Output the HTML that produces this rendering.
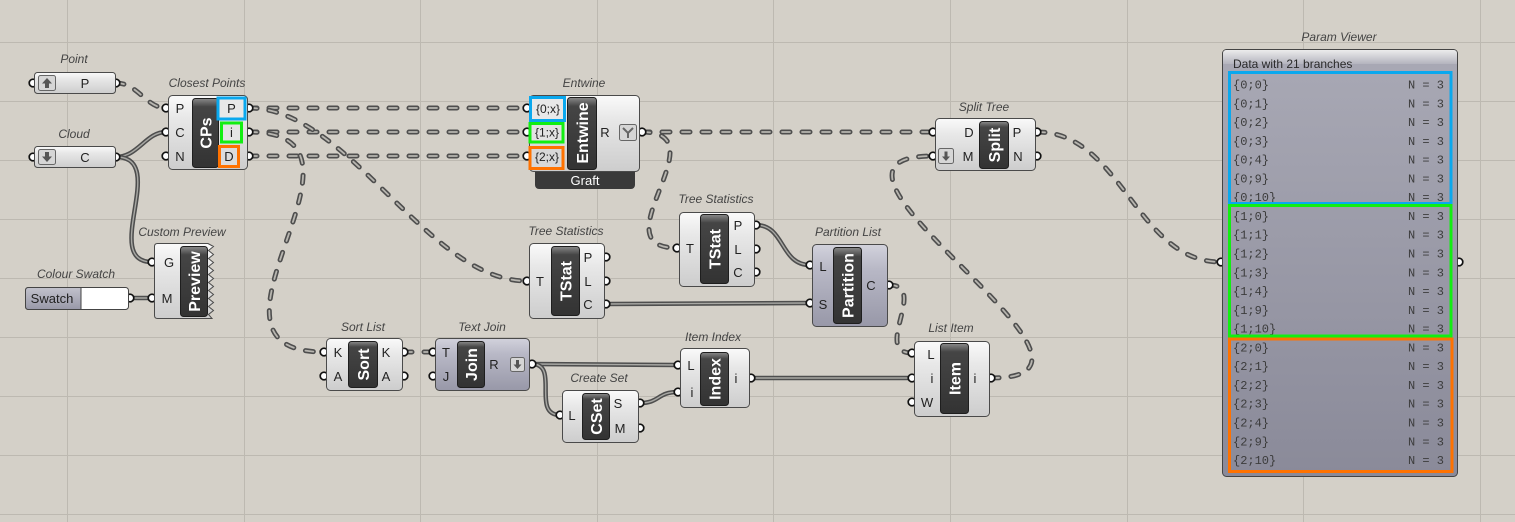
<!DOCTYPE html>
<html><head><meta charset="utf-8"><style>
html,body{margin:0;padding:0;background:#d4d0c8;}
svg{display:block;}
.lbl{font:italic 12px "Liberation Sans",sans-serif;fill:#444;text-anchor:middle;}
.pl{font:13px "Liberation Sans",sans-serif;fill:#222;text-anchor:middle;}
.bt{font:bold 16px "Liberation Sans",sans-serif;fill:#fff;text-anchor:middle;}
.body{fill:url(#gBody);stroke:#4a4a4a;stroke-width:1;}
.pbody{fill:url(#gPurple);stroke:#4a4a4a;stroke-width:1;}
.bar{fill:url(#gBar);stroke:#1e1e1e;stroke-width:1;}
.port{fill:#fff;stroke:#111;stroke-width:1.7;}
.dO{fill:none;stroke:#4e4e4e;stroke-width:5;stroke-linecap:round;stroke-dasharray:8 12;}
.dI{fill:none;stroke:#b8b6b0;stroke-width:1.8;stroke-linecap:round;stroke-dasharray:8 12;}
.sO{fill:none;stroke:#4e4e4e;stroke-width:4.5;}
.sI{fill:none;stroke:#a8a8a4;stroke-width:1.4;}
.grid{stroke:#bdb9b1;stroke-width:1;}
.mono{font:12px "Liberation Mono",monospace;fill:#3c3c3c;}
.ico{fill:#d6d6d6;stroke:#666;stroke-width:1;}
</style></head><body>
<svg width="1515" height="522" viewBox="0 0 1515 522" xmlns="http://www.w3.org/2000/svg">
<defs>
<linearGradient id="gBody" x1="0" y1="0" x2="0" y2="1"><stop offset="0" stop-color="#fafafa"/><stop offset="0.3" stop-color="#e8e8e8"/><stop offset="1" stop-color="#cdcdcd"/></linearGradient>
<linearGradient id="gPurple" x1="0" y1="0" x2="0" y2="1"><stop offset="0" stop-color="#d2d2dc"/><stop offset="0.3" stop-color="#b8b8c6"/><stop offset="1" stop-color="#9898a8"/></linearGradient>
<linearGradient id="gBar" x1="0" y1="0" x2="0" y2="1"><stop offset="0" stop-color="#8a8a8a"/><stop offset="0.12" stop-color="#454545"/><stop offset="1" stop-color="#333"/></linearGradient>
<linearGradient id="gPV" x1="0" y1="0" x2="0" y2="1"><stop offset="0" stop-color="#a9a9b5"/><stop offset="1" stop-color="#8a8a99"/></linearGradient>
<linearGradient id="gHead" x1="0" y1="0" x2="0" y2="1"><stop offset="0" stop-color="#ececec"/><stop offset="1" stop-color="#b4b4be"/></linearGradient>
<linearGradient id="gSw" x1="0" y1="0" x2="0" y2="1"><stop offset="0" stop-color="#c2c2cc"/><stop offset="1" stop-color="#9898a8"/></linearGradient>
</defs>

<!-- grid -->
<g class="grid">
<line x1="67.5" y1="0" x2="67.5" y2="522"/><line x1="244.5" y1="0" x2="244.5" y2="522"/>
<line x1="420.5" y1="0" x2="420.5" y2="522"/><line x1="597.5" y1="0" x2="597.5" y2="522"/>
<line x1="773.5" y1="0" x2="773.5" y2="522"/><line x1="950.5" y1="0" x2="950.5" y2="522"/>
<line x1="1127.5" y1="0" x2="1127.5" y2="522"/><line x1="1303.5" y1="0" x2="1303.5" y2="522"/>
<line x1="1480.5" y1="0" x2="1480.5" y2="522"/>
<line x1="0" y1="42.5" x2="1515" y2="42.5"/><line x1="0" y1="101.5" x2="1515" y2="101.5"/>
<line x1="0" y1="160.5" x2="1515" y2="160.5"/><line x1="0" y1="219.5" x2="1515" y2="219.5"/>
<line x1="0" y1="278.5" x2="1515" y2="278.5"/><line x1="0" y1="337.5" x2="1515" y2="337.5"/>
<line x1="0" y1="396.5" x2="1515" y2="396.5"/><line x1="0" y1="455.5" x2="1515" y2="455.5"/>
<line x1="0" y1="514.5" x2="1515" y2="514.5"/>
</g>

<!-- solid wires -->
<g>
<path class="sO" d="M116,157 C138,157 146,132 166,132"/><path class="sI" d="M116,157 C138,157 146,132 166,132"/>
<path class="sO" d="M116,157 C170,157 100,262 152,262"/><path class="sI" d="M116,157 C170,157 100,262 152,262"/>
<path class="sO" d="M130,298 L152,298"/><path class="sI" d="M130,298 L152,298"/>
<path class="sO" d="M756,225 C785,225 780,265 810,265"/><path class="sI" d="M756,225 C785,225 780,265 810,265"/>
<path class="sO" d="M606,304 L810,303"/><path class="sI" d="M606,304 L810,303"/>
<path class="sO" d="M532,364 L678,365"/><path class="sI" d="M532,364 L678,365"/>
<path class="sO" d="M532,364 C560,364 531,415 560,415"/><path class="sI" d="M532,364 C560,364 531,415 560,415"/>
<path class="sO" d="M640,403 C660,403 657,392 678,392"/><path class="sI" d="M640,403 C660,403 657,392 678,392"/>
<path class="sO" d="M751,378 L912,378"/><path class="sI" d="M751,378 L912,378"/>
</g>
<!-- dashed wires -->
<g>
<path class="dO" d="M116,83 C138,83 146,108 166,108"/><path class="dI" d="M116,83 C138,83 146,108 166,108"/>
<path class="dO" d="M249,108 L527,108"/><path class="dI" d="M249,108 L527,108"/>
<path class="dO" d="M249,132 L527,132"/><path class="dI" d="M249,132 L527,132"/>
<path class="dO" d="M249,156 L527,156"/><path class="dI" d="M249,156 L527,156"/>
<path class="dO" d="M249,108 C349,108 427,281 527,281"/><path class="dI" d="M249,108 C349,108 427,281 527,281"/>
<path class="dO" d="M249,132 C399,132 173,352 324,352"/><path class="dI" d="M249,132 C399,132 173,352 324,352"/>
<path class="dO" d="M642,132 L933,132"/><path class="dI" d="M642,132 L933,132"/>
<path class="dO" d="M642,132 C722,132 597,248 677,248"/><path class="dI" d="M642,132 C722,132 597,248 677,248"/>
<path class="dO" d="M1037,132 C1122,132 1136,262 1221,262"/><path class="dI" d="M1037,132 C1122,132 1136,262 1221,262"/>
<path class="dO" d="M889,285 C929,285 872,353 912,353"/><path class="dI" d="M889,285 C929,285 872,353 912,353"/>
<path class="dO" d="M404,352 L433,352"/><path class="dI" d="M404,352 L433,352"/>
<path class="dO" d="M991,378 C1153,378 771,156 933,156"/><path class="dI" d="M991,378 C1153,378 771,156 933,156"/>
</g>

<!-- ports -->
<g class="port">
<circle cx="33" cy="83" r="3.8"/><circle cx="116" cy="83" r="3.8"/>
<circle cx="33" cy="157" r="3.8"/><circle cx="116" cy="157" r="3.8"/>
<circle cx="166" cy="108" r="3.8"/><circle cx="166" cy="132" r="3.8"/><circle cx="166" cy="156" r="3.8"/>
<circle cx="249" cy="108" r="3.8"/><circle cx="249" cy="132" r="3.8"/><circle cx="249" cy="156" r="3.8"/>
<circle cx="527" cy="108" r="3.8"/><circle cx="527" cy="132" r="3.8"/><circle cx="527" cy="156" r="3.8"/>
<circle cx="642" cy="132" r="3.8"/>
<circle cx="152" cy="262" r="3.8"/><circle cx="152" cy="298" r="3.8"/>
<circle cx="130" cy="298" r="3.8"/>
<circle cx="527" cy="281" r="3.8"/><circle cx="606" cy="257" r="3.8"/><circle cx="606" cy="281" r="3.8"/><circle cx="606" cy="304" r="3.8"/>
<circle cx="677" cy="248" r="3.8"/><circle cx="756" cy="225" r="3.8"/><circle cx="756" cy="249" r="3.8"/><circle cx="756" cy="272" r="3.8"/>
<circle cx="810" cy="265" r="3.8"/><circle cx="810" cy="303" r="3.8"/><circle cx="889" cy="285" r="3.8"/>
<circle cx="324" cy="352" r="3.8"/><circle cx="324" cy="376" r="3.8"/><circle cx="404" cy="352" r="3.8"/><circle cx="404" cy="376" r="3.8"/>
<circle cx="433" cy="352" r="3.8"/><circle cx="433" cy="376" r="3.8"/><circle cx="532" cy="364" r="3.8"/>
<circle cx="560" cy="415" r="3.8"/><circle cx="640" cy="403" r="3.8"/><circle cx="640" cy="428" r="3.8"/>
<circle cx="678" cy="365" r="3.8"/><circle cx="678" cy="392" r="3.8"/><circle cx="751" cy="378" r="3.8"/>
<circle cx="912" cy="353" r="3.8"/><circle cx="912" cy="378" r="3.8"/><circle cx="912" cy="402" r="3.8"/><circle cx="991" cy="378" r="3.8"/>
<circle cx="933" cy="132" r="3.8"/><circle cx="933" cy="156" r="3.8"/><circle cx="1037" cy="132" r="3.8"/><circle cx="1037" cy="156" r="3.8"/>
<circle cx="1221" cy="262" r="3.8"/><circle cx="1459" cy="262" r="3.8"/>
</g>

<!-- Point -->
<rect class="body" x="34.5" y="72.5" width="81" height="21" rx="3"/>
<rect class="ico" x="38.5" y="75.5" width="17" height="15" rx="2"/>
<path d="M47,78 L42,83.5 H45 V88 H49 V83.5 H52 Z" fill="#555"/>
<text class="pl" x="85" y="88">P</text>
<text class="lbl" x="74" y="63">Point</text>

<!-- Cloud -->
<rect class="body" x="34.5" y="146.5" width="81" height="21" rx="3"/>
<rect class="ico" x="38.5" y="149.5" width="17" height="15" rx="2"/>
<path d="M47,162 L42,156.5 H45 V152 H49 V156.5 H52 Z" fill="#555"/>
<text class="pl" x="85" y="162">C</text>
<text class="lbl" x="74" y="138">Cloud</text>

<!-- Closest Points -->
<rect class="body" x="168.5" y="95.5" width="79" height="74" rx="4"/>
<rect class="bar" x="192.5" y="98.5" width="26" height="69" rx="3"/>
<text class="bt" transform="translate(205.5,133) rotate(-90)" dy="6">CPs</text>
<text class="pl" x="180" y="113">P</text><text class="pl" x="180" y="137">C</text><text class="pl" x="180" y="161">N</text>
<rect x="218" y="98" width="27" height="21" fill="#e8e8e8" stroke="#0aa8ee" stroke-width="3"/>
<rect x="221.5" y="123" width="20" height="19" fill="#e4e4e4" stroke="#12ee12" stroke-width="3"/>
<rect x="219.5" y="146.5" width="19" height="20" fill="#dcdcdc" stroke="#ff7200" stroke-width="3"/>
<text class="pl" x="231.5" y="113">P</text><text class="pl" x="231.5" y="137">i</text><text class="pl" x="229" y="161">D</text>
<text class="lbl" x="207" y="87">Closest Points</text>

<!-- Entwine -->
<rect x="535" y="160" width="100" height="29" rx="4" fill="#3a3a3a"/>
<text x="585" y="185" font-family="Liberation Sans, sans-serif" font-size="13" fill="#fff" text-anchor="middle">Graft</text>
<rect class="body" x="529.5" y="95.5" width="110" height="76" rx="4"/>
<rect x="530.5" y="97.5" width="34" height="23" fill="#e8e8e8" stroke="#0aa8ee" stroke-width="3"/>
<rect x="530" y="123.5" width="33" height="18.5" fill="#e2e2e2" stroke="#12ee12" stroke-width="3"/>
<rect x="530" y="147.5" width="33" height="21" fill="#d8d8d8" stroke="#ff7200" stroke-width="3"/>
<text x="548" y="113" font-family="Liberation Sans, sans-serif" font-size="12" fill="#222" text-anchor="middle">{0;x}</text>
<text x="547" y="136.5" font-family="Liberation Sans, sans-serif" font-size="12" fill="#222" text-anchor="middle">{1;x}</text>
<text x="547" y="161" font-family="Liberation Sans, sans-serif" font-size="12" fill="#222" text-anchor="middle">{2;x}</text>
<rect class="bar" x="567.5" y="97.5" width="29" height="72" rx="3"/>
<text class="bt" transform="translate(582,133) rotate(-90)" dy="6">Entwine</text>
<text class="pl" x="605" y="137">R</text>
<rect class="ico" x="619.5" y="124.5" width="17" height="16" rx="2"/>
<path d="M623,128 L628,133 L633,128 M628,133 V138" stroke="#666" stroke-width="2" fill="none"/>
<text class="lbl" x="584" y="87">Entwine</text>

<!-- Custom Preview -->
<path class="body" d="M157.5,243.5 H208 L213.5,246.5 L208.5,250.5 L213.5,254.5 L208.5,258.5 L213.5,262.5 L208.5,266.5 L213.5,270.5 L208.5,274.5 L213.5,278.5 L208.5,282.5 L213.5,286.5 L208.5,290.5 L213.5,294.5 L208.5,298.5 L213.5,302.5 L208.5,306.5 L213.5,310.5 L208.5,314.5 L212,318.5 H157.5 Q154.5,318.5 154.5,315.5 V246.5 Q154.5,243.5 157.5,243.5 Z"/>
<rect class="bar" x="180.5" y="246.5" width="27" height="70" rx="3"/>
<text class="bt" transform="translate(194,281.5) rotate(-90)" dy="6">Preview</text>
<text class="pl" x="169" y="267">G</text><text class="pl" x="167" y="303">M</text>
<text class="lbl" x="182" y="236">Custom Preview</text>

<!-- Colour Swatch -->
<rect x="25.5" y="287.5" width="103" height="22" rx="3" fill="#fff" stroke="#444"/>
<path d="M28.5,287.5 H81 V309.5 H28.5 Q25.5,309.5 25.5,306.5 V290.5 Q25.5,287.5 28.5,287.5 Z" fill="url(#gSw)" stroke="#444"/>
<text class="pl" x="52" y="303">Swatch</text>
<text class="lbl" x="76" y="278">Colour Swatch</text>

<!-- Tree Statistics 1 -->
<rect class="body" x="529.5" y="243.5" width="75" height="75" rx="4"/>
<rect class="bar" x="551.5" y="246.5" width="28" height="69" rx="3"/>
<text class="bt" transform="translate(565.5,281) rotate(-90)" dy="6">TStat</text>
<text class="pl" x="540" y="286">T</text>
<text class="pl" x="588" y="262">P</text><text class="pl" x="588" y="286">L</text><text class="pl" x="588" y="309">C</text>
<text class="lbl" x="566" y="235">Tree Statistics</text>

<!-- Tree Statistics 2 -->
<rect class="body" x="679.5" y="212.5" width="75" height="74" rx="4"/>
<rect class="bar" x="700.5" y="214.5" width="28" height="69" rx="3"/>
<text class="bt" transform="translate(714.5,249) rotate(-90)" dy="6">TStat</text>
<text class="pl" x="690" y="253">T</text>
<text class="pl" x="738" y="230">P</text><text class="pl" x="738" y="254">L</text><text class="pl" x="738" y="277">C</text>
<text class="lbl" x="716" y="203">Tree Statistics</text>

<!-- Partition List -->
<rect class="pbody" x="812.5" y="244.5" width="75" height="82" rx="4"/>
<rect class="bar" x="833.5" y="247.5" width="28" height="76" rx="3"/>
<text class="bt" transform="translate(847.5,285.5) rotate(-90)" dy="6">Partition</text>
<text class="pl" x="823" y="271">L</text><text class="pl" x="823" y="309">S</text>
<text class="pl" x="871" y="290">C</text>
<text class="lbl" x="848" y="236">Partition List</text>

<!-- Sort List -->
<rect class="body" x="326.5" y="338.5" width="76" height="52" rx="4"/>
<rect class="bar" x="348.5" y="341.5" width="29" height="46" rx="3"/>
<text class="bt" transform="translate(363,364.5) rotate(-90)" dy="6">Sort</text>
<text class="pl" x="338" y="357">K</text><text class="pl" x="338" y="381">A</text>
<text class="pl" x="386" y="357">K</text><text class="pl" x="386" y="381">A</text>
<text class="lbl" x="363" y="331">Sort List</text>

<!-- Text Join -->
<rect class="pbody" x="435.5" y="338.5" width="94" height="52" rx="4"/>
<rect class="bar" x="457.5" y="341.5" width="27" height="46" rx="3"/>
<text class="bt" transform="translate(471,364.5) rotate(-90)" dy="6">Join</text>
<text class="pl" x="446" y="357">T</text><text class="pl" x="446" y="381">J</text>
<text class="pl" x="494" y="369">R</text>
<rect class="ico" x="510.5" y="357.5" width="14" height="14" rx="2"/>
<path d="M517.5,369 L513.5,364.5 H516 V360 H519 V364.5 H521.5 Z" fill="#555"/>
<text class="lbl" x="482" y="331">Text Join</text>

<!-- Create Set -->
<rect class="body" x="562.5" y="390.5" width="76" height="52" rx="4"/>
<rect class="bar" x="582.5" y="393.5" width="27" height="46" rx="3"/>
<text class="bt" transform="translate(596,416.5) rotate(-90)" dy="6">CSet</text>
<text class="pl" x="572" y="420">L</text>
<text class="pl" x="618" y="408">S</text><text class="pl" x="620" y="433">M</text>
<text class="lbl" x="599" y="382">Create Set</text>

<!-- Item Index -->
<rect class="body" x="680.5" y="348.5" width="69" height="59" rx="4"/>
<rect class="bar" x="700.5" y="352.5" width="28" height="53" rx="3"/>
<text class="bt" transform="translate(714.5,379) rotate(-90)" dy="6">Index</text>
<text class="pl" x="691" y="370">L</text><text class="pl" x="692" y="397">i</text>
<text class="pl" x="736" y="383">i</text>
<text class="lbl" x="713" y="341">Item Index</text>

<!-- List Item -->
<rect class="body" x="914.5" y="341.5" width="75" height="75" rx="4"/>
<rect class="bar" x="940.5" y="343.5" width="28" height="70" rx="3"/>
<text class="bt" transform="translate(954.5,378.5) rotate(-90)" dy="6">Item</text>
<text class="pl" x="931" y="359">L</text><text class="pl" x="932" y="383">i</text><text class="pl" x="927" y="407">W</text>
<text class="pl" x="975" y="383">i</text>
<text class="lbl" x="951" y="332">List Item</text>

<!-- Split Tree -->
<rect class="body" x="935.5" y="118.5" width="100" height="52" rx="4"/>
<rect class="ico" x="938.5" y="148.5" width="15" height="15" rx="2"/>
<path d="M946,161 L942,156.5 H944.5 V151.5 H947.5 V156.5 H950 Z" fill="#555"/>
<text class="pl" x="969" y="137">D</text><text class="pl" x="968" y="161">M</text>
<rect class="bar" x="979.5" y="121.5" width="29" height="47" rx="3"/>
<text class="bt" transform="translate(994,145) rotate(-90)" dy="6">Split</text>
<text class="pl" x="1017" y="137">P</text><text class="pl" x="1018" y="161">N</text>
<text class="lbl" x="984" y="111">Split Tree</text>

<!-- Param Viewer -->
<rect x="1222.5" y="49.5" width="235" height="427" rx="4" fill="url(#gPV)" stroke="#444"/>
<path d="M1226.5,50 H1453.5 Q1457,50 1457,53.5 V64 H1223 V53.5 Q1223,50 1226.5,50 Z" fill="url(#gHead)"/>
<text x="1233" y="68" font-family="Liberation Sans, sans-serif" font-size="12" fill="#2a2a2a">Data with 21 branches</text>
<text class="lbl" x="1339" y="41">Param Viewer</text>
<g class="mono">
<text x="1233" y="88.5">{0;0}</text><text x="1444" y="88.5" text-anchor="end">N = 3</text>
<text x="1233" y="107.3">{0;1}</text><text x="1444" y="107.3" text-anchor="end">N = 3</text>
<text x="1233" y="126.1">{0;2}</text><text x="1444" y="126.1" text-anchor="end">N = 3</text>
<text x="1233" y="144.8">{0;3}</text><text x="1444" y="144.8" text-anchor="end">N = 3</text>
<text x="1233" y="163.6">{0;4}</text><text x="1444" y="163.6" text-anchor="end">N = 3</text>
<text x="1233" y="182.4">{0;9}</text><text x="1444" y="182.4" text-anchor="end">N = 3</text>
<text x="1233" y="201.2">{0;10}</text><text x="1444" y="201.2" text-anchor="end">N = 3</text>
<text x="1233" y="219.9">{1;0}</text><text x="1444" y="219.9" text-anchor="end">N = 3</text>
<text x="1233" y="238.7">{1;1}</text><text x="1444" y="238.7" text-anchor="end">N = 3</text>
<text x="1233" y="257.5">{1;2}</text><text x="1444" y="257.5" text-anchor="end">N = 3</text>
<text x="1233" y="276.3">{1;3}</text><text x="1444" y="276.3" text-anchor="end">N = 3</text>
<text x="1233" y="295.1">{1;4}</text><text x="1444" y="295.1" text-anchor="end">N = 3</text>
<text x="1233" y="313.8">{1;9}</text><text x="1444" y="313.8" text-anchor="end">N = 3</text>
<text x="1233" y="332.6">{1;10}</text><text x="1444" y="332.6" text-anchor="end">N = 3</text>
<text x="1233" y="351.4">{2;0}</text><text x="1444" y="351.4" text-anchor="end">N = 3</text>
<text x="1233" y="370.2">{2;1}</text><text x="1444" y="370.2" text-anchor="end">N = 3</text>
<text x="1233" y="388.9">{2;2}</text><text x="1444" y="388.9" text-anchor="end">N = 3</text>
<text x="1233" y="407.7">{2;3}</text><text x="1444" y="407.7" text-anchor="end">N = 3</text>
<text x="1233" y="426.5">{2;4}</text><text x="1444" y="426.5" text-anchor="end">N = 3</text>
<text x="1233" y="445.3">{2;9}</text><text x="1444" y="445.3" text-anchor="end">N = 3</text>
<text x="1233" y="464.1">{2;10}</text><text x="1444" y="464.1" text-anchor="end">N = 3</text>
</g>
<rect x="1229.5" y="72.5" width="221.5" height="131" fill="none" stroke="#0aa8ee" stroke-width="3"/>
<rect x="1229.5" y="205.5" width="221.5" height="130.5" fill="none" stroke="#12ee12" stroke-width="3"/>
<rect x="1229.5" y="339" width="222.5" height="132.5" fill="none" stroke="#ff7200" stroke-width="3"/>
</svg>
</body></html>
